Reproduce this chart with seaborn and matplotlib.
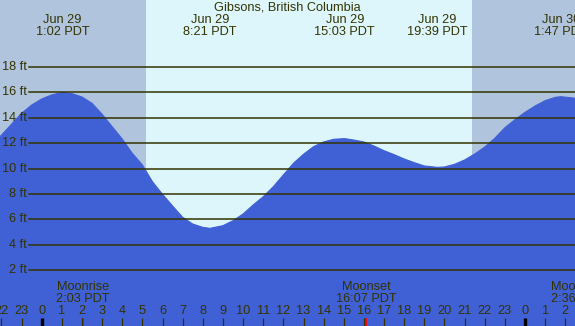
import matplotlib
matplotlib.use("Agg")
import matplotlib.pyplot as plt
import seaborn as sns
import pandas as pd

# ---- data ----
hours = [-2.07, -1.5, -1, -0.5, 0, 0.5, 1.03, 1.5, 2, 2.5, 3, 3.5, 4, 4.5, 5, 5.5,
         6, 6.5, 7, 7.5, 8, 8.35, 9, 9.5, 10, 10.5, 11, 11.5, 12, 12.5, 13, 13.5,
         14, 14.5, 15.05, 15.5, 16, 16.5, 17, 17.5, 18, 18.5, 19, 19.65, 20, 20.5,
         21, 21.5, 22, 22.5, 23, 23.5, 24, 24.5, 25, 25.5, 25.78, 26.48]
heights = [12.51, 13.49, 14.35, 15.0, 15.48, 15.8, 16.0, 15.9, 15.64, 15.14, 14.28, 13.3, 12.33, 11.2, 10.29, 8.97,
           7.98, 7.06, 6.17, 5.64, 5.38, 5.3, 5.51, 5.9, 6.43, 7.14, 7.79, 8.58, 9.5, 10.42, 11.13, 11.73,
           12.1, 12.31, 12.36, 12.25, 12.1, 11.78, 11.41, 11.1, 10.76, 10.47, 10.21, 10.1, 10.13, 10.34,
           10.68, 11.15, 11.7, 12.39, 13.22, 13.85, 14.43, 14.93, 15.35, 15.61, 15.66, 15.54]

event_hours = [1.03, 8.35, 15.05, 19.65, 25.78]
event_dates = ["Jun 29", "Jun 29", "Jun 29", "Jun 29", "Jun 30"]
event_times = ["1:02 PDT", "8:21 PDT", "15:03 PDT", "19:39 PDT", "1:47 PDT"]

moon_hours = [2.05, 16.12, 26.6]
moon_names = ["Moonrise", "Moonset", "Moonrise"]
moon_times = ["2:03 PDT", "16:07 PDT", "2:36 PDT"]

sunrise, sunset = 5.18, 21.37
ft_levels = [2, 4, 6, 8, 10, 12, 14, 16, 18]
hour_ticks = list(range(-2, 27))
hour_labels = [str(h % 24) for h in hour_ticks]
title = "Gibsons, British Columbia"

# ---- styling ----
W, H = 575, 326
txt = "#333300"
fill = "#4060d6"
night = "#b0c4de"
day = "#ddf6fc"
plt.rcParams["font.family"] = ["Liberation Sans", "DejaVu Sans"]
fs = 9.2

fig = plt.figure(figsize=(W / 100, H / 100), dpi=100)
ax = fig.add_axes([0, 0, 1, 1])
xmin, xmax = -2.07, 26.48
ymin, ymax = -2.385, 23.27
ax.set_xlim(xmin, xmax)
ax.set_ylim(ymin, ymax)
ax.axis("off")

ax.axvspan(xmin, sunrise, color=night, lw=0, zorder=0)
ax.axvspan(sunrise, sunset, color=day, lw=0, zorder=0)
ax.axvspan(sunset, xmax, color=night, lw=0, zorder=0)

df = pd.DataFrame({"hour": hours, "height": heights})
sns.lineplot(data=df, x="hour", y="height", color=fill, lw=0.8, ax=ax, zorder=2)
ax.fill_between(df["hour"], ymin, df["height"], color=fill, lw=0, zorder=2)

gx0 = 29 / W
for lv in ft_levels:
    ax.axhline(lv, xmin=gx0, xmax=1, color=txt, lw=1.1, zorder=3)
    ax.text(xmin + (27 / W) * (xmax - xmin), lv, f"{lv} ft", ha="right", va="center",
            color=txt, fontsize=fs, zorder=4)

bt = ax.get_xaxis_transform()


def fy(ypix):
    return 1 - ypix / H


ax.text(0.5, fy(7.5), title, transform=ax.transAxes, ha="center", va="center", color=txt, fontsize=fs)
for h, d, t in zip(event_hours, event_dates, event_times):
    ax.text(h, fy(20), d, transform=bt, ha="center", va="center", color=txt, fontsize=fs)
    ax.text(h, fy(32), t, transform=bt, ha="center", va="center", color=txt, fontsize=fs)

for h, n, t in zip(moon_hours, moon_names, moon_times):
    ax.text(h, fy(287.5), n, transform=bt, ha="center", va="center", color=txt, fontsize=fs)
    ax.text(h, fy(299.5), t, transform=bt, ha="center", va="center", color=txt, fontsize=fs)
    if h < xmax:
        ax.plot([h, h], [0, 8 / H], transform=bt, color="red", lw=1.3, zorder=5, solid_capstyle="butt")

for h, lab in zip(hour_ticks, hour_labels):
    ax.text(h, fy(311.5), lab, transform=bt, ha="center", va="center", color=txt, fontsize=fs)
    if h % 24 == 0:
        ax.plot([h, h], [0, 8 / H], transform=bt, color="black", lw=2.4, zorder=5, solid_capstyle="butt")
    else:
        ax.plot([h, h], [0, 8 / H], transform=bt, color=txt, lw=0.9, zorder=5, solid_capstyle="butt")

fig.savefig("out.png", dpi=100)
